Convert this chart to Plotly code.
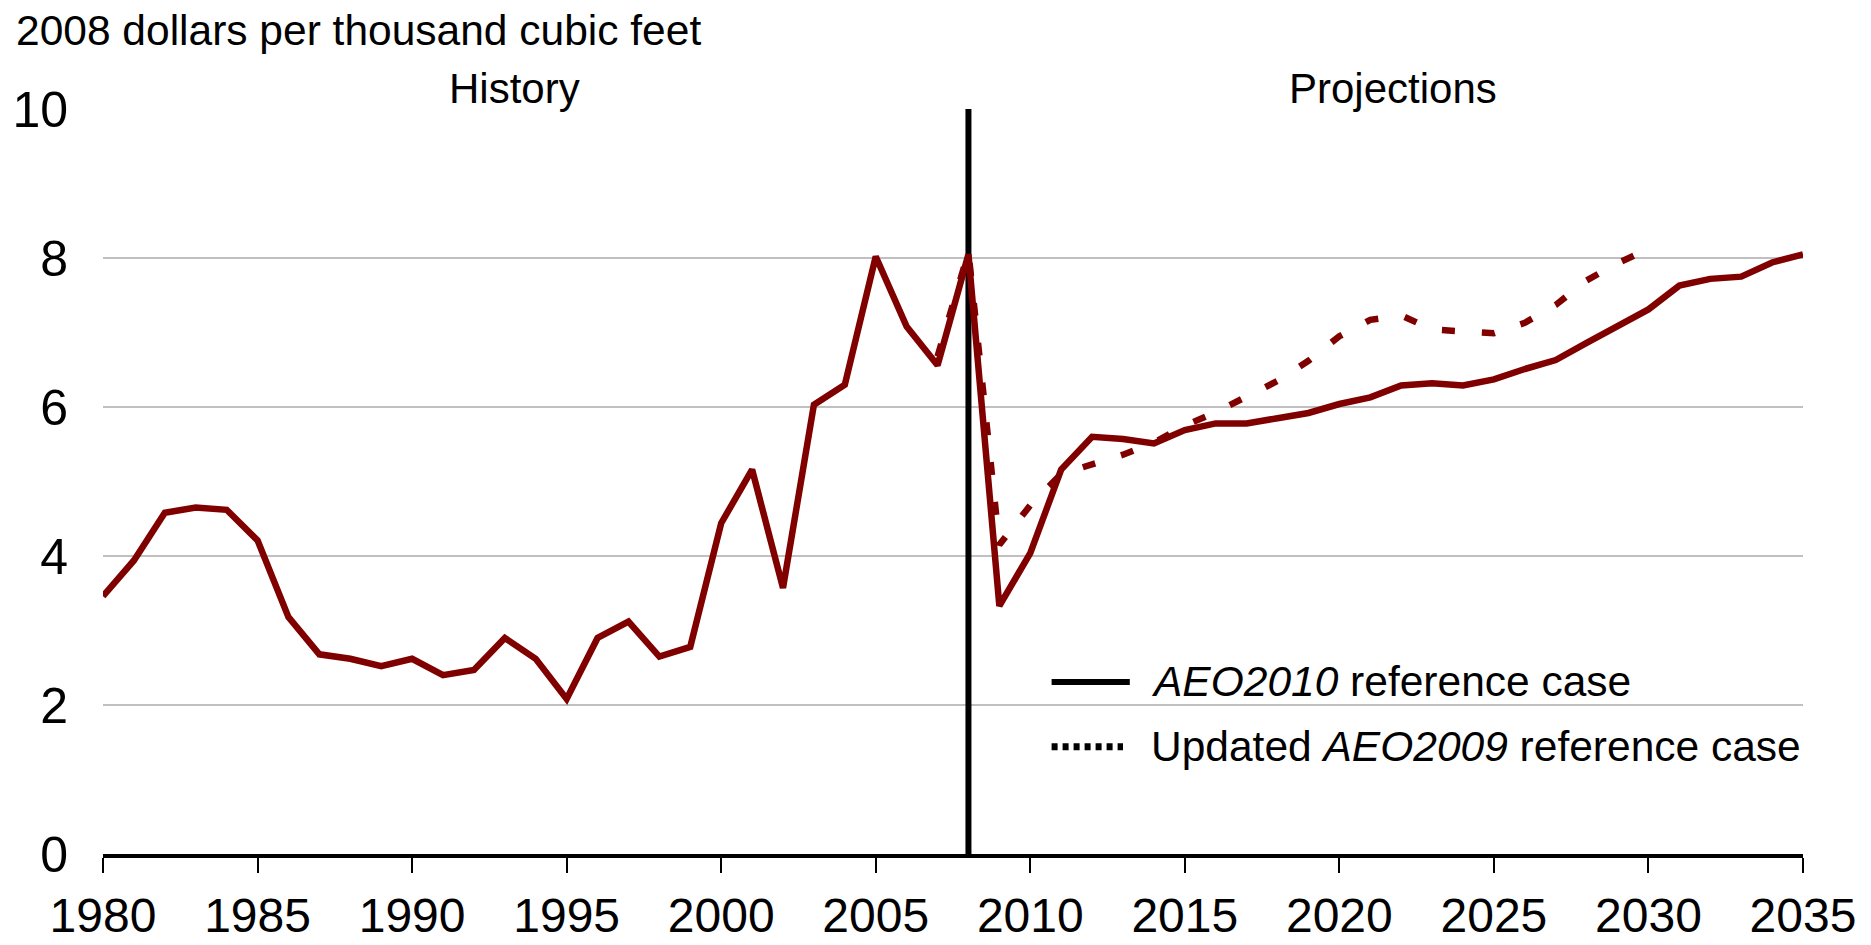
import plotly.graph_objects as go

# history and AEO2010 reference case (2008 dollars per thousand cubic feet)
years_2010 = list(range(1980, 2036))
price_2010 = [3.46, 3.94, 4.58, 4.65, 4.62, 4.21, 3.18, 2.68, 2.62, 2.52,
              2.62, 2.40, 2.47, 2.90, 2.62, 2.08, 2.90, 3.12, 2.65, 2.78,
              4.44, 5.16, 3.57, 6.03, 6.30, 8.02, 7.08, 6.56, 8.05, 3.33,
              4.04, 5.16, 5.60, 5.57, 5.51, 5.69, 5.78, 5.78, 5.85, 5.92,
              6.04, 6.13, 6.29, 6.32, 6.29, 6.37, 6.51, 6.63, 6.86, 7.08,
              7.31, 7.63, 7.72, 7.75, 7.94, 8.05]

# updated AEO2009 reference case
years_2009 = list(range(2007, 2031))
price_2009 = [6.68, 8.08, 4.15, 4.68, 5.10, 5.23, 5.36, 5.52, 5.75, 5.93,
              6.13, 6.35, 6.62, 6.95, 7.17, 7.23, 7.04, 7.01, 6.99, 7.13,
              7.37, 7.70, 7.93, 8.12]

split_year = 2008
FONT = "Liberation Sans, Arial, sans-serif"
RED = "#800000"

fig = go.Figure()
fig.add_trace(go.Scatter(x=years_2010, y=price_2010, mode='lines', name='AEO2010',
                         line=dict(color=RED, width=6.5), showlegend=False))
fig.add_trace(go.Scatter(x=years_2009, y=price_2009, mode='lines', name='AEO2009',
                         line=dict(color=RED, width=6.5, dash='13px,27px'), showlegend=False))

# history / projections divider
fig.add_shape(type='line', x0=split_year, x1=split_year, y0=0, y1=10, xref='x', yref='y',
              line=dict(color='black', width=6), layer='between')

# legend drawn by hand (black samples)
fig.add_shape(type='line', xref='paper', yref='paper', x0=0.558, x1=0.604, y0=0.231, y1=0.231,
              line=dict(color='black', width=6))
fig.add_shape(type='line', xref='paper', yref='paper', x0=0.558, x1=0.600, y0=0.144, y1=0.144,
              line=dict(color='black', width=7, dash='6px,5px'))
fig.add_annotation(text='<i>AEO2010</i> reference case', xref='paper', yref='paper',
                   x=0.615, y=0.231, xanchor='left', yanchor='middle', showarrow=False,
                   font=dict(size=42.5, color='black', family=FONT))
fig.add_annotation(text='Updated <i>AEO2009</i> reference case', xref='paper', yref='paper',
                   x=0.615, y=0.144, xanchor='left', yanchor='middle', showarrow=False,
                   font=dict(size=42.5, color='black', family=FONT))

fig.add_annotation(text='History', xref='paper', yref='paper', x=0.242, y=1.027,
                   xanchor='center', yanchor='middle', showarrow=False,
                   font=dict(size=42, color='black', family=FONT))
fig.add_annotation(text='Projections', xref='paper', yref='paper', x=0.759, y=1.027,
                   xanchor='center', yanchor='middle', showarrow=False,
                   font=dict(size=42, color='black', family=FONT))
fig.add_annotation(text='2008 dollars per thousand cubic feet', xref='paper', yref='paper',
                   x=-0.0524, y=1.105, xanchor='left', yanchor='middle', showarrow=False,
                   font=dict(size=42.5, color='black', family=FONT))

fig.update_xaxes(range=[1980, 2035], tick0=1980, dtick=5, showgrid=False, zeroline=False,
                 showline=True, linecolor='black', linewidth=3.5,
                 ticks='outside', ticklen=15, tickwidth=2, tickcolor='black',
                 ticklabelstandoff=2, automargin=False,
                 tickfont=dict(size=48, color='black', family=FONT))
fig.update_yaxes(range=[0, 10], tick0=0, dtick=2, showgrid=True, gridcolor='#c0c0c0',
                 gridwidth=2, zeroline=False, showline=False, ticks='',
                 ticklabelstandoff=34, automargin=False,
                 tickfont=dict(size=50, color='black', family=FONT))

# page body keeps an 8px margin on the top/left, so the figure is shifted by that
fig.update_layout(width=1863, height=937, plot_bgcolor='white', paper_bgcolor='white',
                  margin=dict(l=95, r=68, t=101, b=91), showlegend=False,
                  font=dict(family=FONT, color='black'))

fig.write_html("out.html")
